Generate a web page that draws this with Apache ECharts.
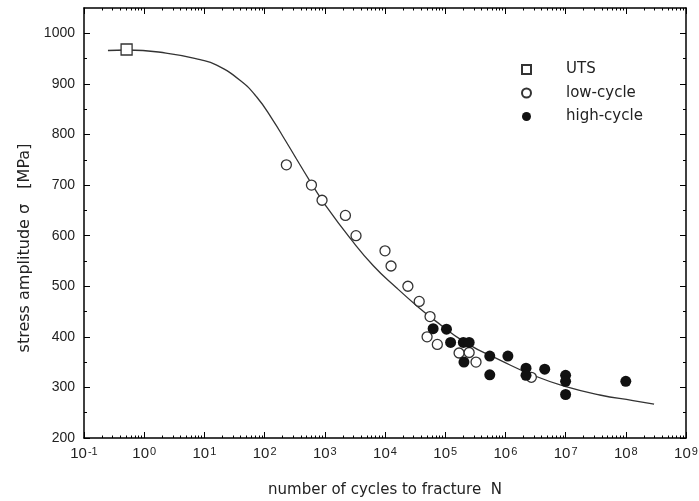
<!DOCTYPE html>
<html><head><meta charset="utf-8">
<script src="https://cdn.jsdelivr.net/npm/echarts@6/dist/echarts.min.js"></script>
<style>html,body{margin:0;padding:0;background:#fff}#c{width:699px;height:501px}</style>
</head><body><div id="c"></div>
<script>
// fitted curve
const curveN = [0.25,0.51,2.3,8.5,16,39,74,138,219,600,1070,2630,6460,15500,33900,63000,229000,813000,2.88e6,1.05e7,3.7e7,1.32e8,2.95e8];
const curveS = [966,967,961,948,937,907,874,828,789,703,657,595,540,497,461,435,387,354,324,301,285,274,267];
// UTS
const utsN = [0.51];
const utsS = [968];
// low-cycle (open circles)
const lowN = [230,600,900,2200,3300,1.0e4,1.26e4,2.4e4,3.7e4,5.6e4,5.0e4,7.4e4,1.7e5,2.5e5,3.25e5,2.7e6];
const lowS = [740,700,670,640,600,570,540,500,470,440,400,385,368,369,350,320];
// high-cycle (filled circles)
const highN = [6.3e4,1.05e5,1.23e5,2.0e5,2.5e5,2.05e5,5.5e5,1.1e6,5.5e5,2.2e6,2.2e6,4.5e6,1e7,1e7,1e7,1e8];
const highS = [416,415,389,389,389,350,362,362,325,338,324,336,324,312,286,312];
// ticks
const xTickValues = [0.1,1,10,100,1e3,1e4,1e5,1e6,1e7,1e8,1e9];
const xTickExps = ['-1','0','1','2','3','4','5','6','7','8','9'];
const yTickValues = [200,300,400,500,600,700,800,900,1000];
const yMinorValues = [250,350,450,550,650,750,850,950];

const xMinorValues = [];
for (let i = 0; i < xTickValues.length - 1; i++) {
  for (let k = 2; k <= 9; k++) xMinorValues.push(k * xTickValues[i]);
}
const zip = (a, b) => a.map((v, i) => [v, b[i]]);

const AX = '#000';
const TXT = '#222';
const SANS = 'Liberation Sans, Arial, sans-serif';
const WIDE = 'DejaVu Sans, sans-serif';

function xAxisCfg(pos, ticks, len, showLine, labels) {
  return {
    type: 'log', logBase: 10, min: 0.1, max: 1e9, position: pos,
    axisLine: { show: showLine, onZero: false, lineStyle: { color: AX, width: 1.5 } },
    axisTick: { show: true, inside: true, length: len, customValues: ticks, lineStyle: { color: AX, width: 1 } },
    axisLabel: labels ? {
      show: true, customValues: xTickValues, margin: 8,
      formatter: function (v) {
        const e = Math.round(Math.log10(v));
        return '{b|10}{s|' + xTickExps[e + 1] + '}';
      },
      rich: {
        b: { fontFamily: SANS, fontSize: 15, color: TXT, verticalAlign: 'bottom', lineHeight: 15 },
        s: { fontFamily: SANS, fontSize: 11, color: TXT, verticalAlign: 'top', lineHeight: 11, padding: [0, 0, 8, 1] }
      }
    } : { show: false },
    splitLine: { show: false },
    minorTick: { show: false }
  };
}
function yAxisCfg(pos, ticks, len, showLine, labels) {
  return {
    type: 'value', min: 200, max: 1050, position: pos,
    axisLine: { show: showLine, onZero: false, lineStyle: { color: AX, width: 1.5 } },
    axisTick: { show: true, inside: true, length: len, customValues: ticks, lineStyle: { color: AX, width: 1 } },
    axisLabel: labels ? {
      show: true, customValues: yTickValues, margin: 9, fontFamily: SANS, fontSize: 14, color: TXT,
      formatter: function (v) { return String(v); }
    } : { show: false },
    splitLine: { show: false }
  };
}

const xMain = xAxisCfg('bottom', xTickValues, 6, true, true);
xMain.name = 'number of cycles to fracture  N';
xMain.nameLocation = 'middle';
xMain.nameGap = 45;
xMain.nameTextStyle = { fontFamily: WIDE, fontSize: 15, color: TXT };

const yMain = yAxisCfg('left', yTickValues, 6, true, true);
yMain.name = 'stress amplitude σ   [MPa]';
yMain.nameLocation = 'middle';
yMain.nameGap = 50;
yMain.nameTextStyle = { fontFamily: WIDE, fontSize: 16, color: TXT, padding: [0, 50, 0, 0] };

const option = {
  animation: false,
  backgroundColor: '#fff',
  grid: { left: 84, right: 13, top: 8, bottom: 63, containLabel: false, outerBoundsMode: 'none' },
  legend: {
    orient: 'vertical', left: 516, top: 57,
    itemWidth: 9, itemHeight: 9, itemGap: 8.5,
    data: ['UTS', 'low-cycle', 'high-cycle'],
    textStyle: { fontFamily: WIDE, fontSize: 15, color: TXT, lineHeight: 15, padding: [0, 0, 0, 30] }
  },
  xAxis: [
    xMain,
    xAxisCfg('bottom', xMinorValues, 2.5, false, false),
    xAxisCfg('top', xTickValues, 6, true, false),
    xAxisCfg('top', xMinorValues, 2.5, false, false)
  ],
  yAxis: [
    yMain,
    yAxisCfg('left', yMinorValues, 3, false, false),
    yAxisCfg('right', yTickValues, 6, true, false),
    yAxisCfg('right', yMinorValues, 3, false, false)
  ],
  series: [
    {
      name: 'curve', type: 'line', data: zip(curveN, curveS), showSymbol: false, smooth: true,
      lineStyle: { color: '#333', width: 1.3 }, z: 1, silent: true
    },
    {
      name: 'UTS', type: 'scatter', data: zip(utsN, utsS), symbol: 'rect', symbolSize: 11,
      itemStyle: { color: '#fff', borderColor: '#333', borderWidth: 1.3, opacity: 1 }, z: 3
    },
    {
      name: 'low-cycle', type: 'scatter', data: zip(lowN, lowS), symbol: 'circle', symbolSize: 10,
      itemStyle: { color: '#fff', borderColor: '#333', borderWidth: 1.3, opacity: 1 }, z: 3
    },
    {
      name: 'high-cycle', type: 'scatter', data: zip(highN, highS), symbol: 'circle', symbolSize: 11,
      itemStyle: { color: '#111', opacity: 1 }, z: 4
    }
  ]
};
const chart = echarts.init(document.getElementById('c'), null, { renderer: 'canvas' });
chart.setOption(option);
</script>
</body></html>
